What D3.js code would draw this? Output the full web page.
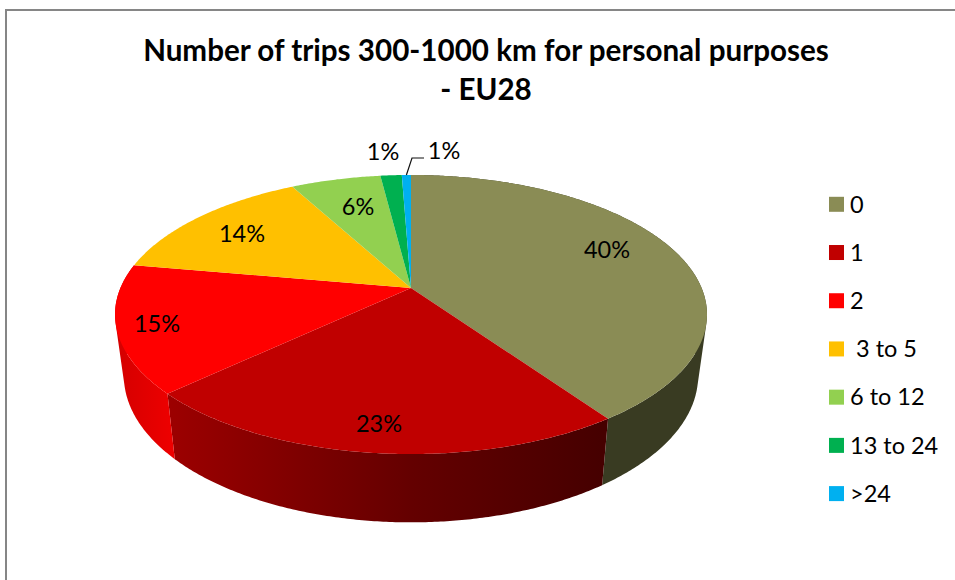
<!DOCTYPE html>
<html>
<head>
<meta charset="utf-8">
<script src="https://cdn.jsdelivr.net/npm/d3@7"></script>
<style>
  html, body { margin: 0; padding: 0; background: #fff; }
  svg { display: block; }
  text { font-family: Lato, "Open Sans", sans-serif; fill: #000; white-space: pre; }
</style>
</head>
<body>
<div id="pieChart"></div>
<script>
// Chart data
const categories = ["0", "1", "2", " 3 to 5", "6 to 12", "13 to 24", ">24"];
const shares = [40.3, 22.7, 14.8, 14.3, 5.9, 1.4, 0.6];
const titleLines = ["Number of trips 300-1000 km for personal purposes", "- EU28"];

const colors = ["#8a8c55", "#c00000", "#ff0000", "#ffc000", "#92d050", "#00b050", "#00b0f0"];

// Side wall shading by screen x. Only the three front slices show a wall
const wallShades = [
  { x: [600, 700], color: ["#393b22", "#393b22"] },
  { x: [170, 411, 601], color: ["#9c0000", "#640000", "#460000"] },
  { x: [116, 173], color: ["#d40000", "#ee0000"] },
];

const width = 955;
const height = 580;

// Perspective of the tilted disc, the apex sits above the middle of the ellipse
const apexX = 411;
const apexY = 288;
const radiusX = 290.6;
const radiusY = 134.5;
const tilt = 0.19;

// Bottom rim of the wall
const rimScaleX = 0.97;
const rimScaleY = 1.05;
const rimDrop = 60;

function project(angle, r = 1) {
  const u = r * Math.sin(angle);
  const v = -r * Math.cos(angle);
  const w = 1 - tilt * v;
  return [apexX + radiusX * u / w, apexY + radiusY * v / w];
}

function projectRim(angle) {
  const [x, y] = project(angle);
  return [apexX + rimScaleX * (x - apexX), apexY + rimDrop + rimScaleY * (y - apexY)];
}

const svg = d3.select("#pieChart")
  .append("svg")
  .attr("width", width)
  .attr("height", height);

// Gradients for the side walls
const defs = svg.append("defs");
wallShades.forEach((shade, i) => {
  const x0 = shade.x[0];
  const x1 = shade.x[shade.x.length - 1];
  const gradient = defs.append("linearGradient")
    .attr("id", "wall-" + i)
    .attr("gradientUnits", "userSpaceOnUse")
    .attr("x1", x0)
    .attr("x2", x1)
    .attr("y1", 0)
    .attr("y2", 0);
  shade.x.forEach((x, j) => {
    gradient.append("stop")
      .attr("offset", (x - x0) / (x1 - x0))
      .attr("stop-color", shade.color[j]);
  });
});

// Chart frame, runs off the right and bottom of the picture
svg.append("path")
  .attr("d", `M6,${height}V10H${width}`)
  .attr("fill", "none")
  .attr("stroke", "#868686")
  .attr("stroke-width", 2);

// Title
svg.selectAll(".title")
  .data(titleLines)
  .enter()
  .append("text")
  .attr("class", "title")
  .attr("x", 486)
  .attr("y", (d, i) => 61 + i * 39)
  .attr("text-anchor", "middle")
  .attr("font-size", 29.6)
  .attr("font-weight", "bold")
  .text((d) => d);

const pie = d3.pie().sort(null).startAngle(0).endAngle(2 * Math.PI);
const arcs = pie(shares);
const line = d3.line();
const step = Math.PI / 360;

const anglesOf = (d) => d3.range(d.startAngle, d.endAngle, step).concat(d.endAngle);

// Side walls, one path per slice made of thin strips. The hull keeps every strip
// wound the same way, so they add up and the silhouette stays straight at the tips
svg.append("g")
  .selectAll("path")
  .data(arcs.slice(0, wallShades.length))
  .enter()
  .append("path")
  .attr("d", (d) => d3.pairs(anglesOf(d))
    .map(([a0, a1]) => line(d3.polygonHull([project(a0), project(a1), projectRim(a1), projectRim(a0)])) + "Z")
    .join(""))
  .attr("fill", (d, i) => `url(#wall-${i})`);

// Top face
svg.append("g")
  .selectAll("path")
  .data(arcs)
  .enter()
  .append("path")
  .attr("d", (d) => line([[apexX, apexY]].concat(anglesOf(d).map((a) => project(a)))) + "Z")
  .attr("fill", (d, i) => colors[i]);

// Percent labels, placed by hand like the original
const labelAt = [[607, 250], [379, 424], [157, 324], [242, 234], [358, 207], [383, 152], [444, 151]];
const total = d3.sum(shares);

svg.selectAll(".share")
  .data(arcs)
  .enter()
  .append("text")
  .attr("class", "share")
  .attr("x", (d, i) => labelAt[i][0])
  .attr("y", (d, i) => labelAt[i][1])
  .attr("dy", "0.35em")
  .attr("text-anchor", "middle")
  .attr("font-size", 23.5)
  .text((d) => d3.format(".0%")(d.value / total));

// Leader line to the last label
const lastArc = arcs[arcs.length - 1];
svg.append("path")
  .attr("d", line([project((lastArc.startAngle + lastArc.endAngle) / 2), [412, 158], [424, 158]]))
  .attr("fill", "none")
  .attr("stroke", "#111")
  .attr("stroke-width", 1.2);

// Legend
const legendY = d3.scalePoint().domain(d3.range(categories.length)).range([204.3, 493.6]);

const legend = svg.selectAll(".legend")
  .data(categories)
  .enter()
  .append("g")
  .attr("class", "legend")
  .attr("transform", (d, i) => `translate(829,${legendY(i)})`);

legend.append("rect")
  .attr("y", -7.5)
  .attr("width", 15)
  .attr("height", 15)
  .attr("fill", (d, i) => colors[i]);

legend.append("text")
  .attr("x", 21)
  .attr("dy", "0.35em")
  .attr("font-size", 23.5)
  .text((d) => d);
</script>
</body>
</html>
